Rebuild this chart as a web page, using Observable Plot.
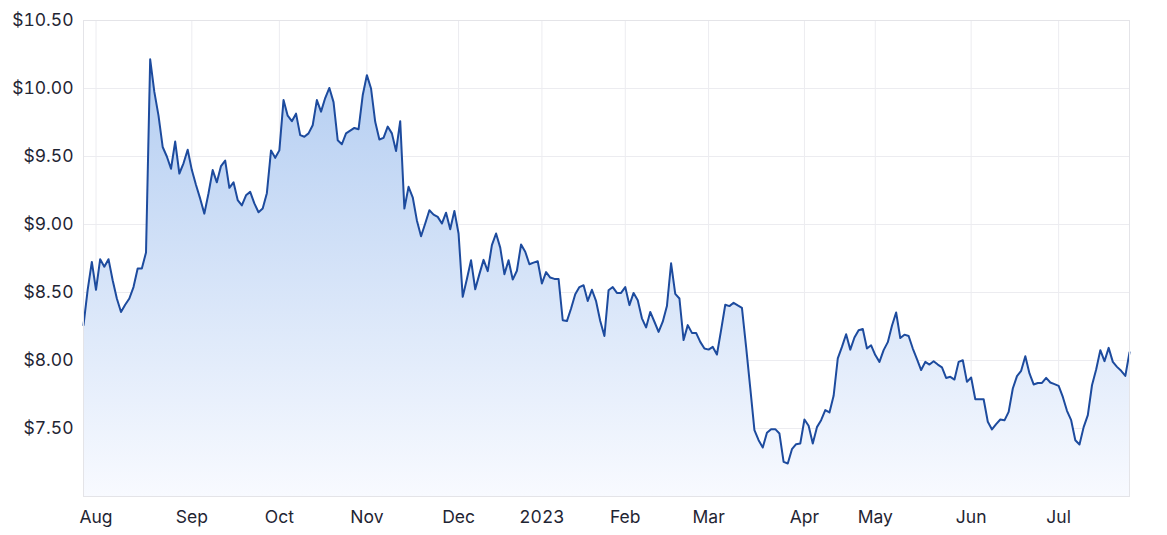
<!DOCTYPE html>
<html>
<head>
<meta charset="utf-8">
<script src="https://cdn.jsdelivr.net/npm/d3@7"></script>
<script src="https://cdn.jsdelivr.net/npm/@observablehq/plot@0.6"></script>
<style>
  html, body { margin: 0; padding: 0; background: #fff; }
  #chart { width: 1167px; height: 535px; }
</style>
</head>
<body>
<div id="chart"></div>
<script>
// Daily closing prices (one value per trading day), grouped by month
const jul22 = [8.26, 8.52, 8.725];
const aug22 = [8.52, 8.745, 8.69, 8.745, 8.59, 8.456, 8.357, 8.41, 8.456, 8.54, 8.676, 8.676, 8.794, 10.215, 9.975, 9.80, 9.57, 9.50, 9.41, 9.61, 9.375, 9.45, 9.55];
const sep22 = [9.40, 9.29, 9.19, 9.08, 9.23, 9.40, 9.31, 9.43, 9.47, 9.27, 9.31, 9.18, 9.14, 9.215, 9.24, 9.155, 9.09, 9.117, 9.23, 9.545, 9.49];
const oct22 = [9.545, 9.915, 9.80, 9.76, 9.815, 9.657, 9.645, 9.67, 9.73, 9.915, 9.83, 9.93, 10.004, 9.90, 9.62, 9.59, 9.67, 9.69, 9.71, 9.70, 9.95];
const nov22 = [10.098, 10.0, 9.755, 9.625, 9.637, 9.72, 9.67, 9.54, 9.76, 9.117, 9.277, 9.20, 9.03, 8.914, 9.007, 9.105, 9.073, 9.056, 9.007, 9.087, 8.965, 9.10];
const dec22 = [8.934, 8.468, 8.60, 8.737, 8.524, 8.635, 8.74, 8.657, 8.848, 8.934, 8.83, 8.635, 8.737, 8.595, 8.66, 8.853, 8.80, 8.708, 8.72, 8.73];
const jan23 = [8.566, 8.65, 8.61, 8.60, 8.60, 8.296, 8.29, 8.382, 8.487, 8.54, 8.553, 8.438, 8.52, 8.436, 8.29, 8.18, 8.517, 8.54, 8.497, 8.497];
const feb23 = [8.54, 8.407, 8.497, 8.443, 8.31, 8.243, 8.357, 8.285, 8.21, 8.285, 8.40, 8.715, 8.49, 8.456, 8.15, 8.26, 8.203, 8.203, 8.137, 8.088];
const mar23 = [8.08, 8.10, 8.044, 8.223, 8.41, 8.40, 8.424, 8.405, 8.387, 8.10, 7.797, 7.488, 7.414, 7.36, 7.468, 7.495, 7.495, 7.463, 7.255, 7.243, 7.348, 7.385, 7.39];
const apr23 = [7.566, 7.52, 7.39, 7.51, 7.561, 7.635, 7.618, 7.74, 8.015, 8.10, 8.193, 8.08, 8.169, 8.223, 8.232, 8.088, 8.112];
const may23 = [8.04, 7.99, 8.076, 8.135, 8.255, 8.353, 8.165, 8.19, 8.18, 8.088, 8.01, 7.93, 7.99, 7.97, 7.995, 7.97, 7.95, 7.872, 7.88, 7.86, 7.99, 8.002, 7.843];
const jun23 = [7.875, 7.715, 7.715, 7.715, 7.55, 7.493, 7.532, 7.566, 7.56, 7.622, 7.794, 7.885, 7.924, 8.032, 7.905, 7.824, 7.835, 7.835, 7.872, 7.838, 7.826];
const jul23 = [7.813, 7.732, 7.63, 7.561, 7.414, 7.382, 7.51, 7.598, 7.818, 7.934, 8.076, 7.995, 8.093, 7.99, 7.953, 7.924, 7.887, 8.06];

const months = [jul22, aug22, sep22, oct22, nov22, dec22, jan23, feb23, mar23, apr23, may23, jun23, jul23];
const monthLabels = ["Aug", "Sep", "Oct", "Nov", "Dec", "2023", "Feb", "Mar", "Apr", "May", "Jun", "Jul"];
const yTicks = [7.5, 8, 8.5, 9, 9.5, 10, 10.5];
const yDomain = [7, 10.5];

// Build table: trading-day index + price
const data = [];
const monthStarts = [];
months.forEach((m, mi) => {
  if (mi > 0) monthStarts.push(data.length);
  m.forEach(v => data.push({i: data.length, v}));
});
const tickLabel = new Map(monthStarts.map((s, k) => [s, monthLabels[k]]));

const chart = Plot.plot({
  width: 1167,
  height: 535,
  marginLeft: 83,
  marginRight: 38,
  marginTop: 20,
  marginBottom: 39,
  style: {fontFamily: "Inter, 'Noto Sans', sans-serif", fontSize: "17.5px", color: "#1f2533", background: "#fff"},
  x: {domain: [0, data.length - 1], ticks: monthStarts, tickFormat: d => tickLabel.get(d), tickSize: 0, tickPadding: 14, label: null},
  y: {domain: yDomain, ticks: yTicks, tickFormat: d => "$" + d.toFixed(2), tickSize: 0, tickPadding: 10, label: null},
  marks: [
    Plot.gridY(yTicks, {stroke: "#ececf0", strokeOpacity: 1}),
    Plot.gridX(monthStarts, {stroke: "#ececf0", strokeOpacity: 1}),
    Plot.areaY(data, {x: "i", y1: yDomain[0], y2: "v", fill: "url(#areaGrad)"}),
    Plot.lineY(data, {x: "i", y: "v", stroke: "#1d4b9e", strokeWidth: 2, strokeLinejoin: "round"}),
    Plot.frame({stroke: "#e4e4e8"})
  ]
});

const svg = d3.select(chart);
const defs = svg.insert("defs", ":first-child");
const grad = defs.append("linearGradient")
  .attr("id", "areaGrad")
  .attr("gradientUnits", "userSpaceOnUse")
  .attr("x1", 0).attr("x2", 0)
  .attr("y1", 20).attr("y2", 496);
grad.append("stop").attr("offset", "0%").attr("stop-color", "#adc9f0");
grad.append("stop").attr("offset", "100%").attr("stop-color", "#f8faff");

document.getElementById("chart").appendChild(chart);
</script>
</body>
</html>
